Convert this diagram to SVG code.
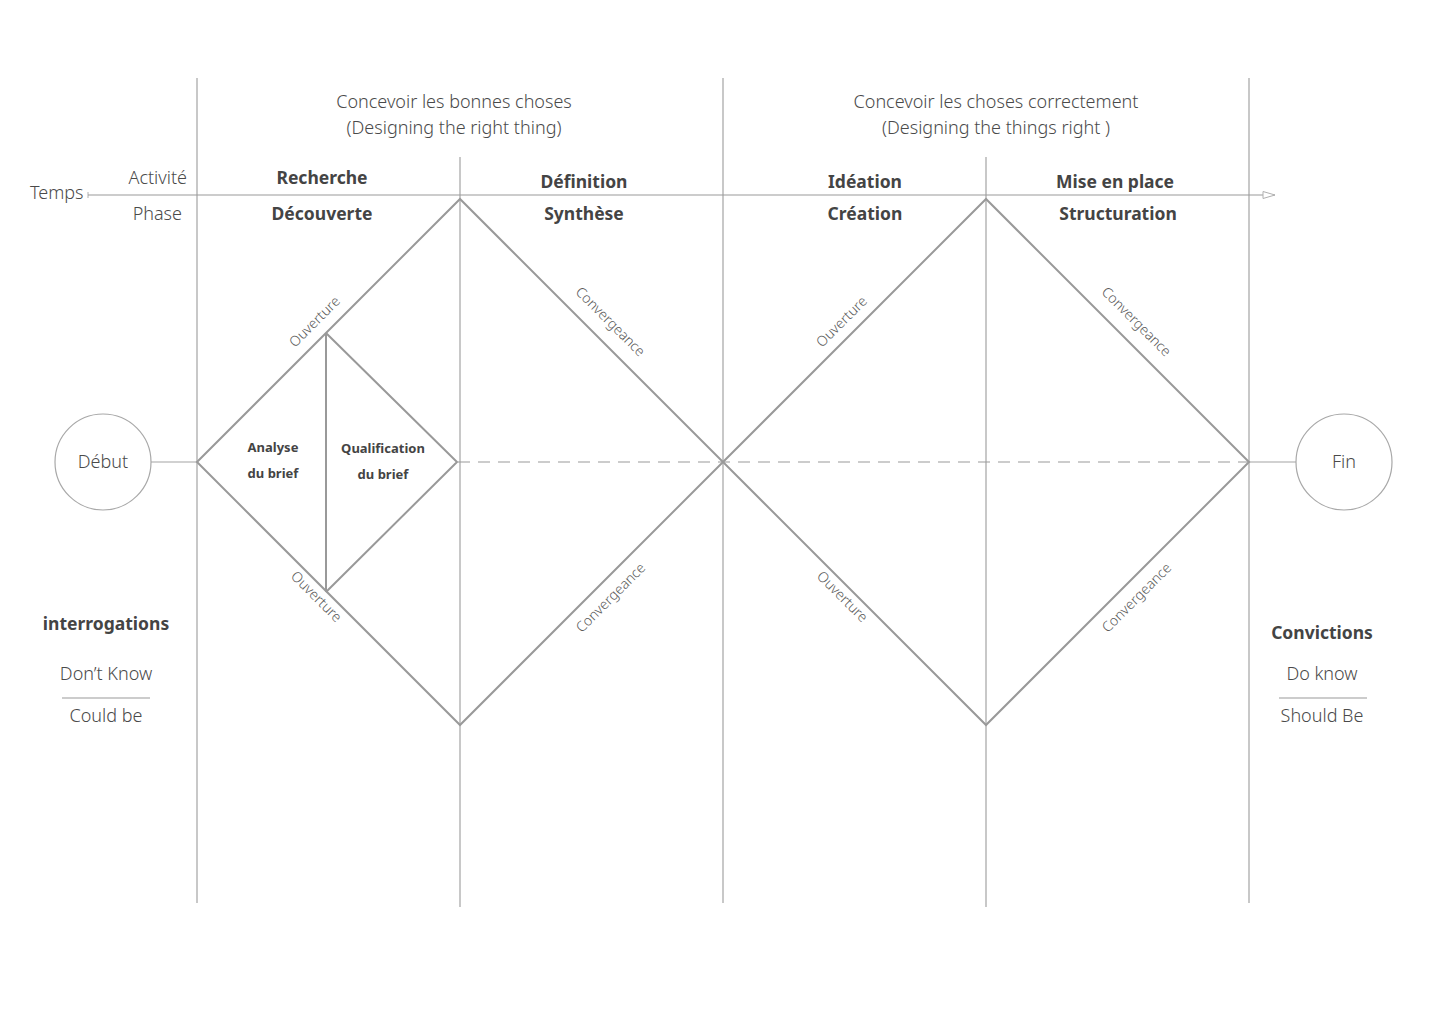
<svg xmlns="http://www.w3.org/2000/svg" width="1440" height="1024" viewBox="0 0 1440 1024">
  <style>
    .grid { stroke: #a3a3a3; stroke-width: 1.2; fill: none; }
    .dia { stroke: #999; stroke-width: 2; fill: none; }
    .dash { stroke: #9a9a9a; stroke-width: 1.2; stroke-dasharray: 12 8; fill: none; }
    .t { font-family: "Noto Sans", Lato, "Liberation Sans", sans-serif; fill: #4a4a4a; font-size: 18px; font-weight: 300; }
    .b { font-family: "Noto Sans", Lato, "Liberation Sans", sans-serif; fill: #444; font-size: 17.5px; font-weight: bold; }
    .sb { font-family: "Noto Sans", Lato, "Liberation Sans", sans-serif; fill: #444; font-size: 13px; font-weight: bold; }
    .rot { font-family: "Noto Sans", Lato, "Liberation Sans", sans-serif; fill: #5a5a5a; font-size: 14px; font-weight: 300; }
    .c { text-anchor: middle; }
    .r { text-anchor: end; }
  </style>
  <defs>
    <marker id="arrow" markerWidth="14" markerHeight="10" refX="13" refY="5" orient="auto" markerUnits="userSpaceOnUse">
      <path d="M1,1.5 L13,5 L1,8.5 Z" fill="#fff" stroke="#b0b0b0" stroke-width="1"/>
    </marker>
  </defs>
  <rect width="1440" height="1024" fill="#fff"/>

  <!-- column grid -->
  <g id="grid">
    <line class="grid" x1="197" y1="78" x2="197" y2="903"/>
    <line class="grid" x1="460" y1="157" x2="460" y2="907"/>
    <line class="grid" x1="723" y1="78" x2="723" y2="903"/>
    <line class="grid" x1="986" y1="157" x2="986" y2="907"/>
    <line class="grid" x1="1249" y1="78" x2="1249" y2="903"/>
  </g>

  <!-- headers -->
  <g id="headers">
    <text class="t c" x="454" y="108">Concevoir les bonnes choses</text>
    <text class="t c" x="454" y="134">(Designing the right thing)</text>
    <text class="t c" x="996" y="108">Concevoir les choses correctement</text>
    <text class="t c" x="996" y="134">(Designing the things right )</text>
  </g>

  <!-- timeline -->
  <g id="timeline">
    <text class="t" x="30" y="199">Temps</text>
    <line x1="88" y1="192" x2="88" y2="198" stroke="#b0b0b0" stroke-width="1"/>
    <line x1="88" y1="195" x2="1275" y2="195" stroke="#9a9a9a" stroke-width="1.2" marker-end="url(#arrow)"/>
    <text class="t r" x="187" y="184">Activité</text>
    <text class="t r" x="182" y="220">Phase</text>
    <text class="b c" x="322" y="184">Recherche</text>
    <text class="b c" x="322" y="220">Découverte</text>
    <text class="b c" x="584" y="188">Définition</text>
    <text class="b c" x="584" y="220">Synthèse</text>
    <text class="b c" x="865" y="188">Idéation</text>
    <text class="b c" x="865" y="220">Création</text>
    <text class="b c" x="1115" y="188">Mise en place</text>
    <text class="b c" x="1118" y="220">Structuration</text>
  </g>

  <!-- connectors -->
  <g id="connectors">
    <line class="grid" x1="151" y1="462" x2="197" y2="462"/>
    <line class="grid" x1="1249" y1="462" x2="1296" y2="462"/>
    <line class="dash" x1="458" y1="462" x2="1249" y2="462"/>
  </g>

  <!-- first diamond: discover / define -->
  <g id="diamond-1">
    <path class="dia" d="M197,462 L460,199 L723,462 L460,725 Z"/>
    <text class="rot c" transform="translate(318,325) rotate(-45)">Ouverture</text>
    <text class="rot c" transform="translate(607,325) rotate(45)">Convergeance</text>
    <text class="rot c" transform="translate(313,600) rotate(45)">Ouverture</text>
    <text class="rot c" transform="translate(614,601) rotate(-45)">Convergeance</text>
  </g>

  <!-- brief sub-diamond -->
  <g id="brief">
    <path class="dia" d="M326,333 L326,592 M326,333 L457,462 L326,592"/>
    <text class="sb c" x="273" y="452">Analyse</text>
    <text class="sb c" x="273" y="478">du brief</text>
    <text class="sb c" x="383" y="453">Qualification</text>
    <text class="sb c" x="383" y="479">du brief</text>
  </g>

  <!-- second diamond: develop / deliver -->
  <g id="diamond-2">
    <path class="dia" d="M723,462 L986,199 L1249,462 L986,725 Z"/>
    <text class="rot c" transform="translate(845,325) rotate(-45)">Ouverture</text>
    <text class="rot c" transform="translate(1133,325) rotate(45)">Convergeance</text>
    <text class="rot c" transform="translate(839,600) rotate(45)">Ouverture</text>
    <text class="rot c" transform="translate(1140,601) rotate(-45)">Convergeance</text>
  </g>

  <!-- start / end -->
  <g id="start">
    <circle cx="103" cy="462" r="48" fill="#fff" stroke="#a8a8a8" stroke-width="1.2"/>
    <text class="t c" x="103" y="468">Début</text>
  </g>
  <g id="end">
    <circle cx="1344" cy="462" r="48" fill="#fff" stroke="#a8a8a8" stroke-width="1.2"/>
    <text class="t c" x="1344" y="468">Fin</text>
  </g>

  <!-- side notes -->
  <g id="questions">
    <text class="b c" x="106" y="630">interrogations</text>
    <text class="t c" x="106" y="680">Don’t Know</text>
    <line x1="62" y1="698" x2="150" y2="698" stroke="#999" stroke-width="1"/>
    <text class="t c" x="106" y="722">Could be</text>
  </g>
  <g id="convictions">
    <text class="b c" x="1322" y="639">Convictions</text>
    <text class="t c" x="1322" y="680">Do know</text>
    <line x1="1279" y1="698" x2="1367" y2="698" stroke="#999" stroke-width="1"/>
    <text class="t c" x="1322" y="722">Should Be</text>
  </g>
</svg>
